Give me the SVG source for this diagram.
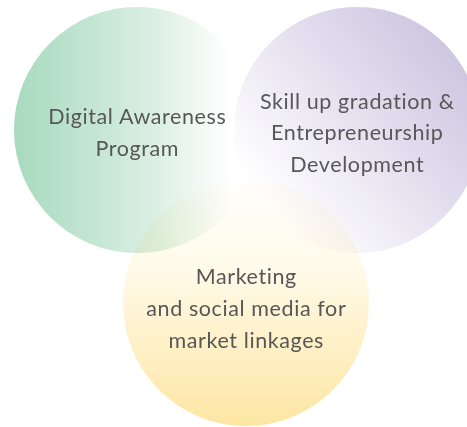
<svg xmlns="http://www.w3.org/2000/svg" width="467" height="427" viewBox="0 0 467 427">
<defs>
<linearGradient id="gGreen" x1="0" y1="0" x2="1" y2="0">
<stop offset="0" stop-color="#a7dabe"/>
<stop offset="0.55" stop-color="#d9eee2"/>
<stop offset="0.88" stop-color="#ffffff"/>
</linearGradient>
<linearGradient id="gPurple" x1="1" y1="0.1" x2="0.1" y2="0.85">
<stop offset="0" stop-color="#c7bfdd"/>
<stop offset="0.5" stop-color="#e4e0ef"/>
<stop offset="0.95" stop-color="#ffffff"/>
</linearGradient>
<linearGradient id="gYellow" x1="0" y1="0" x2="0" y2="1">
<stop offset="0" stop-color="#fffefb"/>
<stop offset="0.35" stop-color="#fffaea"/>
<stop offset="1" stop-color="#fde6a3"/>
</linearGradient>
</defs>
<style>
.c{mix-blend-mode:multiply}
.t{font-family:Lato,"Open Sans","Liberation Sans",sans-serif;font-size:21.5px;letter-spacing:0.6px;fill:#575757;text-anchor:middle}
</style>
<rect width="467" height="427" fill="#ffffff"/>
<g id="connectors"/>
<g id="node-yellow">
<circle class="c" cx="246" cy="303" r="123" fill="url(#gYellow)"/>
</g>
<g id="node-green">
<circle class="c" cx="137" cy="130" r="123" fill="url(#gGreen)"/>
</g>
<g id="node-purple">
<circle class="c" cx="357" cy="130" r="123" fill="url(#gPurple)"/>
</g>
<g id="labels">
<text class="t" x="137.3" y="124">Digital Awareness</text>
<text class="t" x="137.3" y="155.5">Program</text>
<text class="t" x="357.3" y="108.5">Skill up gradation &amp;</text>
<text class="t" x="357.3" y="140">Entrepreneurship</text>
<text class="t" x="357.3" y="171.5">Development</text>
<text class="t" x="246.3" y="284">Marketing</text>
<text class="t" x="246.3" y="316">and social media for</text>
<text class="t" x="246.3" y="347.5">market linkages</text>
</g>
</svg>
